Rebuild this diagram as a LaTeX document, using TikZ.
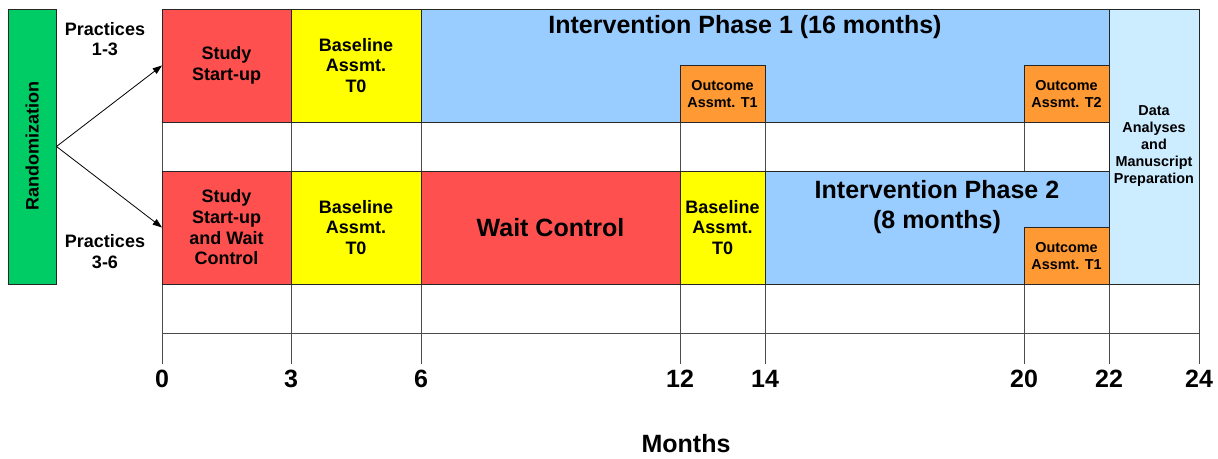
\documentclass[tikz,border=0pt]{standalone}
\usepackage{fontspec}
\setmainfont{Liberation Sans}
\usetikzlibrary{arrows.meta}
\definecolor{boxred}{HTML}{FF5050}
\definecolor{boxyellow}{HTML}{FFFF00}
\definecolor{boxblue}{HTML}{99CCFF}
\definecolor{boxpale}{HTML}{CCECFF}
\definecolor{boxorange}{HTML}{FF9933}
\definecolor{boxgreen}{HTML}{00CC66}
\tikzset{
  cell/.style={draw=black!85, line width=0.6pt, inner sep=0pt, outer sep=0pt,
               align=center, font=\bfseries\fontsize{13.5}{15.5}\selectfont,
               minimum height=84.75pt},
  bigtext/.style={font=\bfseries\fontsize{18.75}{22.5}\selectfont, align=center},
  smalltext/.style={font=\bfseries\fontsize{10.8}{12.75}\selectfont},
  midtext/.style={font=\bfseries\fontsize{13.5}{15.5}\selectfont, align=center},
  outbox/.style={cell, smalltext, fill=boxorange, minimum width=63.75pt, minimum height=42.375pt},
  tallbox/.style={cell, minimum height=206.25pt},
  gridline/.style={black!70, line width=0.6pt},
  flow/.style={-{Triangle[length=7pt,width=5pt]}, line width=0.6pt},
}

\begin{document}
\begin{tikzpicture}[x=0.75pt, y=-0.75pt]
  \useasboundingbox (0,0) rectangle (1218,459);
  % grid behind the bars
  \foreach \gx in {162,291,421,680,765,1024,1109,1199}
    \draw[gridline] (\gx,9) -- (\gx,364);
  \foreach \gy in {122,171,284,333}
    \draw[gridline] (162,\gy) -- (1199,\gy);

  % randomization
  \node[tallbox, fill=boxgreen, minimum width=36.375pt] (rand) at (32.25,146.5) {};
  \node[midtext, rotate=90] (randt) at (rand.center) {Randomization};

  % practices 1-3
  \node[cell, fill=boxred, minimum width=96.75pt] (s1) at (226.5,65.5) {Study\\Start-up};
  \node[cell, fill=boxyellow, minimum width=97.5pt] (b1) at (356,65.5) {Baseline\\Assmt.\\T0};
  \node[cell, fill=boxblue, minimum width=516pt] (ip1) at (765,65.5) {};
  \node[bigtext] (ip1t) at (745,27) {Intervention Phase 1 (16 months)};
  \node[outbox] (o1) at (722.5,93.75) {Outcome\\Assmt. T1};
  \node[outbox] (o2) at (1066.5,93.75) {Outcome\\Assmt. T2};

  % practices 3-6
  \node[cell, fill=boxred, minimum width=96.75pt] (s2) at (226.5,227.5) {Study\\Start-up\\and Wait\\Control};
  \node[cell, fill=boxyellow, minimum width=97.5pt] (b2) at (356,227.5) {Baseline\\Assmt.\\T0};
  \node[cell, bigtext, fill=boxred, minimum width=194.25pt] (wc) at (550.5,227.5) {Wait Control};
  \node[cell, fill=boxyellow, minimum width=63.75pt] (b3) at (722.5,227.5) {Baseline\\Assmt.\\T0};
  \node[cell, fill=boxblue, minimum width=258pt] (ip2) at (937,227.5) {};
  \node[bigtext] (ip2t) at (937,207) {Intervention Phase 2\\(8 months)};
  \node[outbox] (o3) at (1066.5,255.75) {Outcome\\Assmt. T1};

  \node[tallbox, smalltext, fill=boxpale, minimum width=67.5pt] (da) at (1154,146.5)
    {Data\\Analyses\\and\\Manuscript\\Preparation};

  \node[midtext] (pr1) at (105,39) {Practices\\1-3};
  \node[midtext] (pr2) at (105,251.5) {Practices\\3-6};
  \draw[flow] (rand.east) -- (s1.west);
  \draw[flow] (rand.east) -- (s2.west);

  % month axis
  \foreach \m/\gx in {0/162,3/291,6/421,12/680,14/765,20/1024,22/1109,24/1199}
    \node[bigtext, anchor=base] (m\m) at (\gx,388) {\m};
  \node[bigtext, anchor=base] (months) at (686,453) {Months};
\end{tikzpicture}
\end{document}
